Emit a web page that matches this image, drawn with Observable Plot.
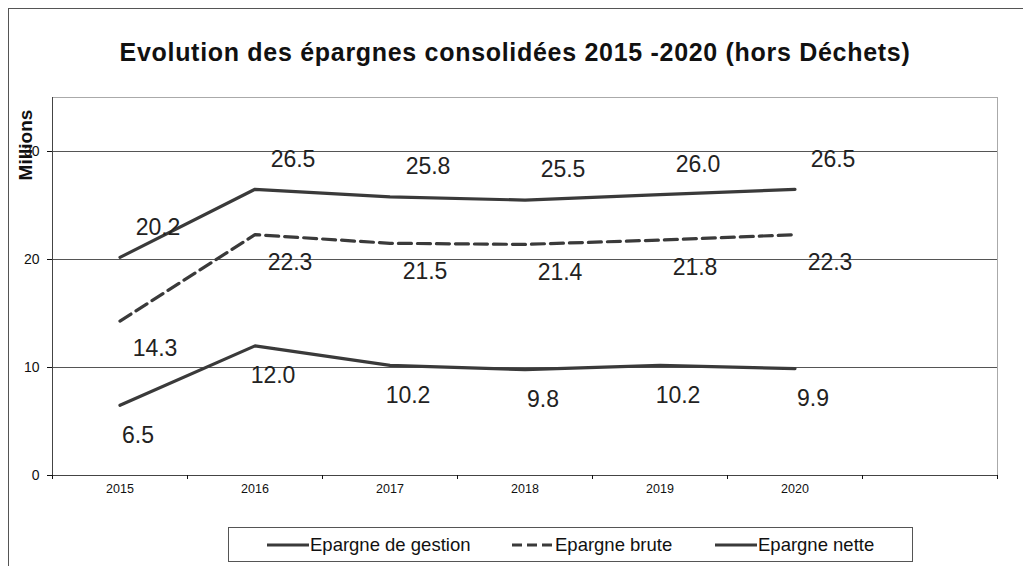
<!DOCTYPE html>
<html>
<head>
<meta charset="utf-8">
<script src="https://cdn.jsdelivr.net/npm/d3@7"></script>
<script src="https://cdn.jsdelivr.net/npm/@observablehq/plot@0.6"></script>
<style>
  body { margin:0; background:#fff; font-family: "Liberation Sans", Arial, sans-serif; }
  #wrap { position:relative; width:1023px; height:566px; overflow:hidden; background:#fff; }
  #border { position:absolute; left:8px; top:8px; width:1200px; height:700px; border-left:1.5px solid #555; border-top:1.5px solid #555; }
  #title { position:absolute; left:0; top:37px; width:1030px; text-align:center; font-weight:bold; font-size:25px; letter-spacing:0.7px; line-height:30px; color:#111; }
  #chart { position:absolute; left:0; top:80px; }
  #ylab { position:absolute; left:-14px; top:133px; width:80px; text-align:center; transform:rotate(-90deg); font-weight:bold; font-size:19px; line-height:24px; color:#111; }
  #legend { position:absolute; left:228px; top:527px; width:685px; height:35px; border:1px solid #555; box-sizing:border-box; }
  .item { position:absolute; top:0; height:33px; display:flex; align-items:center; font-size:18.5px; color:#111; }
  .item svg { margin-right:1px; }
</style>
</head>
<body>
<div id="wrap">
  <div id="border"></div>
  <div id="title">Evolution des épargnes consolidées 2015 -2020 (hors Déchets)</div>
  <div id="chart"></div>
  <div id="ylab">Millions</div>
  <div id="legend"></div>
</div>
<script>
const years = [2015, 2016, 2017, 2018, 2019, 2020];
const gestion = [20.2, 26.5, 25.8, 25.5, 26.0, 26.5];
const brute = [14.3, 22.3, 21.5, 21.4, 21.8, 22.3];
const nette = [6.5, 12.0, 10.2, 9.8, 10.2, 9.9];
const seriesNames = ["Epargne de gestion", "Epargne brute", "Epargne nette"];
const yTicks = [0, 10, 20, 30];
const gridValues = [10, 20, 30];

const rows = (vals, s) => years.map((y, i) => ({year: y, value: vals[i], series: s}));
const dG = rows(gestion, seriesNames[0]);
const dB = rows(brute, seriesNames[1]);
const dN = rows(nette, seriesNames[2]);

const boundaries = d3.range(years[0] - 0.5, years[years.length - 1] + 2, 1);
const lineColor = "#3a3a3a";

const chart = Plot.plot({
  width: 1023,
  height: 420,
  marginLeft: 52,
  marginRight: 26,
  marginTop: 17,
  marginBottom: 25,
  x: {type: "linear", domain: [boundaries[0], boundaries[boundaries.length - 1]]},
  y: {domain: [0, 35]},
  style: {fontFamily: "'Liberation Sans', Arial, sans-serif", background: "transparent", color: "#111"},
  marks: [
    Plot.ruleY(gridValues, {stroke: "#555", strokeWidth: 1}),
    Plot.ruleY([35], {stroke: "#aaa", strokeWidth: 1}),
    Plot.ruleX([boundaries[boundaries.length - 1]], {stroke: "#aaa", strokeWidth: 1}),
    Plot.ruleX([boundaries[0]], {stroke: "#444", strokeWidth: 1}),
    Plot.ruleY([0], {stroke: "#444", strokeWidth: 1}),
    Plot.axisY({ticks: yTicks, tickSize: 5, tickPadding: 8, fontSize: 14, label: null, tickFormat: d => String(d)}),
    Plot.axisX({ticks: boundaries, tickSize: 4, tickFormat: () => "", label: null}),
    Plot.axisX({ticks: years, tickSize: 0, tickPadding: 9, fontSize: 12.5, label: null, tickFormat: d => String(d)}),
    Plot.line(dG, {x: "year", y: "value", stroke: lineColor, strokeWidth: 3.2}),
    Plot.line(dB, {x: "year", y: "value", stroke: lineColor, strokeWidth: 3.2, strokeDasharray: "13,6"}),
    Plot.line(dN, {x: "year", y: "value", stroke: lineColor, strokeWidth: 3.2}),
    Plot.text(dG, {x: "year", y: "value", text: d => d.value.toFixed(1), dx: 38, dy: -30, fontSize: 23, fill: "#222"}),
    Plot.text(dB, {x: "year", y: "value", text: d => d.value.toFixed(1), dx: 35, dy: 28, fontSize: 23, fill: "#222"}),
    Plot.text(dN, {x: "year", y: "value", text: d => d.value.toFixed(1), dx: 18, dy: 30, fontSize: 23, fill: "#222"})
  ]
});
document.getElementById("chart").appendChild(chart);

// legend
const legend = document.getElementById("legend");
const legendItems = [
  {name: seriesNames[0], dash: null, left: 38},
  {name: seriesNames[1], dash: "10,5", left: 283},
  {name: seriesNames[2], dash: null, left: 486}
];
legendItems.forEach(it => {
  const div = document.createElement("div");
  div.className = "item";
  div.style.left = it.left + "px";
  div.innerHTML = `<svg width="42" height="10"><line x1="0" y1="5" x2="42" y2="5" stroke="${lineColor}" stroke-width="3" ${it.dash ? `stroke-dasharray="${it.dash}"` : ""}/></svg><span>${it.name}</span>`;
  legend.appendChild(div);
});
</script>
</body>
</html>
